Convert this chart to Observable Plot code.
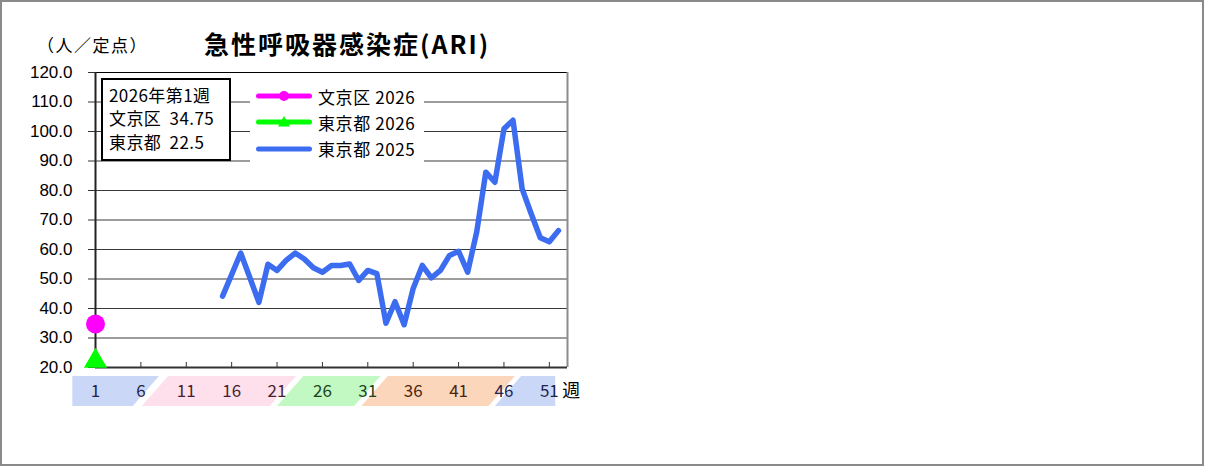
<!DOCTYPE html>
<html><head><meta charset="utf-8">
<script src="https://cdn.jsdelivr.net/npm/d3@7"></script>
<script src="https://cdn.jsdelivr.net/npm/@observablehq/plot@0.6"></script>
<style>
body{margin:0;background:#fff;}
#page{position:relative;width:1205px;height:467px;overflow:hidden;background:#fff;font-family:"Noto Sans CJK JP",sans-serif;color:#000;}
.abs{position:absolute;}
#frame{left:0;top:0;width:1200px;height:462px;border:2px solid #8a8a8a;}
#unit{left:37px;top:34px;font-size:17px;line-height:22px;letter-spacing:1.5px;}
#title{left:204px;top:28px;font-size:25px;line-height:30px;font-weight:bold;letter-spacing:2px;}
#info{left:101px;top:78px;width:126px;height:79px;border:2px solid #000;background:#fff;font-size:17px;letter-spacing:0.4px;}
#info div{position:absolute;left:6px;line-height:22px;white-space:pre;}
#legend{left:250px;top:80px;width:174px;height:82px;background:#fff;font-size:17px;letter-spacing:0.6px;}
#legend .row{position:absolute;left:6px;height:22px;display:flex;align-items:center;white-space:pre;}
#legend svg{display:block;margin-right:6px;}
</style></head><body>
<div id="page">
  <div id="frame" class="abs"></div>
  <div id="unit" class="abs">（人／定点）</div>
  <div id="title" class="abs">急性呼吸器感染症(ARI)</div>
  <div id="chart" class="abs" style="left:0;top:0"></div>
  <div id="strip" class="abs" style="left:0;top:376px"></div>
  <div id="info" class="abs"></div>
  <div id="legend" class="abs"></div>
</div>
<script>
// ---- data ----
const weeks2025 = d3.range(15, 53);
const tokyo2025 = [44.2, 51.5, 58.8, 50.5, 42.1, 55.0, 52.9, 56.3, 58.8, 56.8,
                   53.8, 52.3, 54.6, 54.6, 55.1, 49.5, 52.9, 51.8, 35.0, 42.3,
                   34.5, 46.8, 54.6, 50.4, 52.9, 58.0, 59.4, 52.3, 66.0, 86.2,
                   82.8, 100.9, 103.8, 80.6, 72.1, 64.0, 62.6, 66.4];
const weeks2026 = [1];
const bunkyo2026 = [34.75];
const tokyo2026 = [22.5];
const yTicks = d3.range(20, 121, 10);
const xTicks = d3.range(1, 52, 5);
const seasonStart = [-1.5, 7.6, 22.5, 31.8, 46.5];
const seasonEnd = [6.6, 21.7, 31.0, 45.8, 51.7];
const infoTitle = "2026年第1週";
const infoRows = [["文京区", "34.75"], ["東京都", "22.5"]];
const legendLabels = ["文京区 2026", "東京都 2026", "東京都 2025"];

// ---- styles ----
const bandFill = ["#cad7f6", "#fde0ec", "#c2f8c2", "#fcd6bb", "#cad7f6"];
const labelFill = ["#1c2550", "#4a1e2c", "#1c451c", "#4a2810", "#1c2550"];
const blue = "#3c6df1", magenta = "#ff00ff", green = "#00ff00";

const series2025 = weeks2025.map((w, i) => ({week: w, value: tokyo2025[i]}));
const pts1 = weeks2026.map((w, i) => ({week: w, value: bunkyo2026[i]}));
const pts2 = weeks2026.map((w, i) => ({week: w, value: tokyo2026[i]}));

const W = 600, H = 400, ML = 95, MR = 33, MT = 72, MB = 33;
const frameH = H - MT - MB;

const chart = Plot.plot({
  width: W, height: H, marginLeft: ML, marginRight: MR, marginTop: MT, marginBottom: MB,
  x: {domain: [1, 53], axis: null},
  y: {domain: [20, 120], axis: null},
  style: {background: "transparent", fontSize: "17px", fontFamily: "Liberation Sans, Arial, sans-serif", overflow: "visible"},
  marks: [
    Plot.gridY(yTicks.filter(d => d > 20 && d < 120), {stroke: "#3a3a3a", strokeOpacity: 1}),
    Plot.ruleY([120], {stroke: "#000"}),
    Plot.ruleX([53], {stroke: "#8c8c8c", strokeWidth: 2}),
    Plot.axisY(yTicks, {label: null, tickSize: 7, tickPadding: 16, tickFormat: d => d.toFixed(1), stroke: "#333", fill: "#000"}),
    Plot.tickX(xTicks.slice(1), {x: d => d, insetTop: frameH - 5, stroke: "#333"}),
    Plot.ruleY([20], {stroke: "#333", strokeWidth: 2}),
    Plot.ruleX([1], {stroke: "#222", strokeWidth: 2}),
    Plot.line(series2025, {x: "week", y: "value", stroke: blue, strokeWidth: 5.5, strokeLinejoin: "round", strokeLinecap: "round"}),
    Plot.dot(pts1, {x: "week", y: "value", r: 9.5, fill: magenta}),
    Plot.dot(pts2, {x: "week", y: "value", r: 8.6, symbol: "triangle", fill: green, dy: 1})
  ]
});
document.getElementById("chart").append(chart);

// season strip under the x axis
const slant = 1.45;
const last = seasonStart.length - 1;
const bandPts = [];
seasonStart.forEach((s, i) => {
  const e = seasonEnd[i];
  bandPts.push({i, y: 0, x1: i === 0 ? s : s - slant, x2: i === last ? e : e - slant});
  bandPts.push({i, y: 1, x1: i === 0 ? s : s + slant, x2: i === last ? e : e + slant});
});
const seasonOf = w => { let k = 0; seasonStart.forEach((s, i) => { if (w >= s - 0.5) k = i; }); return k; };
const strip = Plot.plot({
  width: W, height: 30, marginLeft: ML, marginRight: MR, marginTop: 0, marginBottom: 0,
  x: {domain: [1, 53], axis: null},
  y: {domain: [0, 1], axis: null},
  color: {type: "identity"},
  style: {background: "transparent", fontSize: "17px", fontFamily: "Noto Sans CJK JP, sans-serif", overflow: "visible"},
  marks: [
    Plot.areaX(bandPts, {y: "y", x1: "x1", x2: "x2", z: "i", fill: d => bandFill[d.i]}),
    Plot.text(xTicks, {x: d => d, y: 0.5, text: d => String(d), fill: d => labelFill[seasonOf(d)]}),
    Plot.text(["週"], {x: 51, y: 0.5, text: d => d, textAnchor: "start", dx: 13, fill: "#000", fontSize: 18})
  ]
});
document.getElementById("strip").append(strip);

// info box
const info = document.getElementById("info");
[infoTitle, ...infoRows.map(r => r[0] + "  " + r[1])].forEach((t, i) => {
  const d = document.createElement("div");
  d.textContent = t;
  d.style.top = (4 + i * 23.3) + "px";
  info.append(d);
});

// legend
const legend = document.getElementById("legend");
const swatch = (color, marker) => {
  const ns = "http://www.w3.org/2000/svg";
  const s = document.createElementNS(ns, "svg");
  s.setAttribute("width", 56); s.setAttribute("height", 14);
  const l = document.createElementNS(ns, "line");
  l.setAttribute("x1", 2.5); l.setAttribute("x2", 53.5); l.setAttribute("y1", 7); l.setAttribute("y2", 7);
  l.setAttribute("stroke", color); l.setAttribute("stroke-width", 5); l.setAttribute("stroke-linecap", "round");
  s.append(l);
  if (marker === "circle") {
    const c = document.createElementNS(ns, "circle");
    c.setAttribute("cx", 28); c.setAttribute("cy", 7); c.setAttribute("r", 5); c.setAttribute("fill", color);
    s.append(c);
  } else if (marker === "triangle") {
    const p = document.createElementNS(ns, "path");
    p.setAttribute("d", "M28,1L34,11.5L22,11.5Z"); p.setAttribute("fill", color);
    s.append(p);
  }
  return s;
};
const legendStyle = [[magenta, "circle"], [green, "triangle"], [blue, null]];
legendLabels.forEach((t, i) => {
  const row = document.createElement("div");
  row.className = "row";
  row.style.top = (5 + i * 26.3) + "px";
  row.append(swatch(...legendStyle[i]));
  const sp = document.createElement("span");
  sp.textContent = t;
  row.append(sp);
  legend.append(row);
});
</script>
</body></html>
